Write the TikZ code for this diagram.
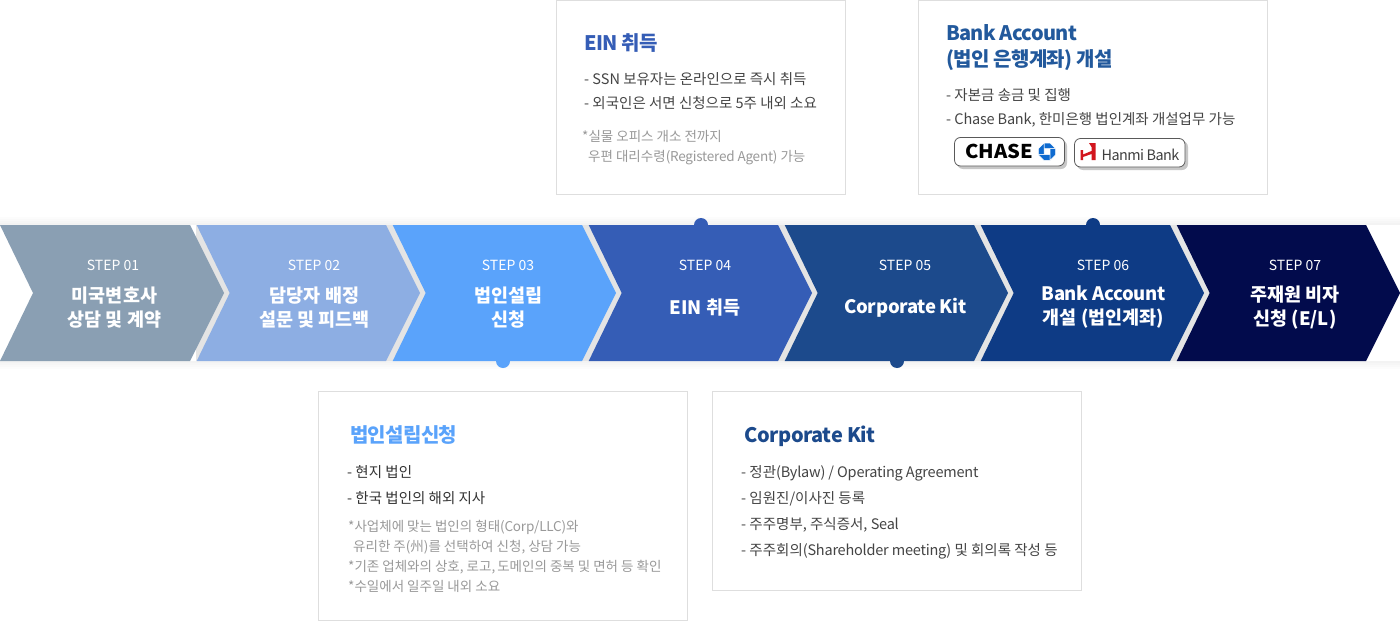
\documentclass[tikz,border=0pt]{standalone}
\usepackage{fontspec}
\setmainfont{Noto Sans CJK KR}
\usetikzlibrary{calc}
\definecolor{cA}{HTML}{8A9FB3}
\definecolor{cB}{HTML}{8DAEE3}
\definecolor{cC}{HTML}{5AA3FB}
\definecolor{cD}{HTML}{355DB6}
\definecolor{cE}{HTML}{1C4A8C}
\definecolor{cF}{HTML}{0E3B85}
\definecolor{cG}{HTML}{020B4C}
\definecolor{bTitle}{HTML}{22599C}
\definecolor{bord}{HTML}{DEDEDE}
\definecolor{gapc}{HTML}{E4E4E4}
\definecolor{txt}{HTML}{444444}
\definecolor{note}{HTML}{999999}
\definecolor{chaseblue}{HTML}{0F6BD0}
\definecolor{hanmired}{HTML}{D2161E}
\newcommand{\tl}[1]{{\addfontfeature{LetterSpace=-1.5}#1}}
\newcommand{\tn}[1]{{\addfontfeature{LetterSpace=-1.8}#1}}
\tikzset{
 x=1pt,y=-1pt,
 card/.style={draw=bord,line width=1.2pt,fill=white},
 steplab/.style={text=white,font=\fontsize{14}{16}\selectfont,anchor=center,inner sep=0pt},
 stepname/.style={text=white,font=\fontsize{18.5}{24}\selectfont\bfseries,align=center,anchor=center,inner sep=0pt},
 ctitle/.style={anchor=base west,inner sep=0pt,font=\fontsize{20}{26}\selectfont\bfseries\addfontfeature{LetterSpace=-3.4}},
 line/.style={anchor=base west,inner sep=0pt,text=txt,font=\fontsize{14.5}{18}\selectfont},
 small/.style={anchor=base west,inner sep=0pt,text=note,font=\fontsize{13.5}{18}\selectfont},
 pin/.style={circle,inner sep=0pt,minimum size=14pt},
 logo/.style={draw=black!65,line width=.8pt,fill=white,rounded corners=6pt},
 shadowbox/.style={fill=black!22,rounded corners=6pt},
}
\newcommand{\chev}[3]{% x offset, colour, name
 \fill[#2] (#1+.7,225) -- (#1+190,225) -- (#1+224,293) -- (#1+190,361) -- (#1+.7,361) -- (#1+33.7,293) -- cycle;
 \coordinate (#3) at (#1+112,293);
}
\begin{document}
\begin{tikzpicture}
\useasboundingbox (0,0) rectangle (1400,621);
\fill[white] (0,0) rectangle (1400,621);
% soft shadow above and below the band
\foreach \d in {8,6,4,2}{
 \fill[black,opacity=.012] (0,225-\d) rectangle (1400,225);
 \fill[black,opacity=.012] (0,361) rectangle (1400,361+\d);
}
% gap band
\fill[gapc] (196,225) rectangle (1366,361);
\fill[gapc] (1366,225) -- (1400,293) -- (1366,361) -- cycle;
% pins behind chevrons
\node[pin,fill=cD] (pinD) at (701,225) {};
\node[pin,fill=cF] (pinF) at (1093,225) {};
\node[pin,fill=cC] (pinC) at (503,361) {};
\node[pin,fill=cE] (pinE) at (897,361) {};
% chevrons
\chev{1176}{cG}{s7}
\chev{980}{cF}{s6}
\chev{784}{cE}{s5}
\chev{588}{cD}{s4}
\chev{392}{cC}{s3}
\chev{196}{cB}{s2}
\fill[cA] (0,225) -- (190,225) -- (224,293) -- (190,361) -- (0,361) -- (33,293) -- cycle;
\coordinate (s1) at (112,293);
% step labels
\node[steplab] (l1) at (113,265) {STEP 01};
\node[stepname] (n1) at (114.5,307.5) {미국변호사\\상담 및 계약};
\node[steplab] (l2) at (314,265) {STEP 02};
\node[stepname] (n2) at (314.5,307.5) {담당자 배정\\설문 및 피드백};
\node[steplab] (l3) at (508,265) {STEP 03};
\node[stepname] (n3) at (508.5,307.5) {법인설립\\신청};
\node[steplab] (l4) at (705,265) {STEP 04};
\node[stepname] (n4) at (705,307.5) {EIN 취득};
\node[steplab] (l5) at (905,265) {STEP 05};
\node[stepname] (n5) at (905.5,307.5) {\tn{Corporate Kit}};
\node[steplab] (l6) at (1103,265) {STEP 06};
\node[stepname] (n6) at (1103.5,307.5) {\tn{Bank Account}\\개설 (법인계좌)};
\node[steplab] (l7) at (1295,265) {STEP 07};
\node[stepname] (n7) at (1295,307.5) {주재원 비자\\신청 (E/L)};
% cards
\draw[card] (556.5,.6) rectangle (845.5,194.5);
\draw[card] (918.5,.6) rectangle (1267.5,194.5);
\draw[card] (318.5,391.5) rectangle (687.5,620.5);
\draw[card] (712.5,391.5) rectangle (1081.5,590.5);
% EIN
\node[ctitle,text=cD] (t4) at (584,50) {EIN 취득};
\node[line] (a1) at (584,84) {- SSN 보유자는 온라인으로 즉시 취득};
\node[line] (a2) at (584,108) {- 외국인은 서면 신청으로 5주 내외 소요};
\node[small] (a3) at (582,141) {*실물 오피스 개소 전까지};
\node[small] (a4) at (588,161) {우편 대리수령\tl{(Registered Agent)} 가능};
% Bank
\node[ctitle,text=bTitle] (t6a) at (946,40) {Bank Account};
\node[ctitle,text=bTitle] (t6b) at (946,66) {(법인 은행계좌) 개설};
\node[line] (b1) at (946,100) {- 자본금 송금 및 집행};
\node[line] (b2) at (946,124) {- \tl{Chase Bank,} 한미은행 법인계좌 개설업무 가능};
% logos
\fill[shadowbox] (957,140) rectangle (1067,169);
\draw[logo] (954.5,137.5) rectangle (1064.5,166);
\node[inner sep=0pt,anchor=center,font=\fontsize{19}{20}\selectfont\bfseries,text=black,xscale=1.06] (chase) at (999,151.8) {CHASE};
\begin{scope}[shift={(1047,151.7)}]
 \foreach \a in {0,90,180,270}{
  \fill[chaseblue,draw=white,line width=.5pt,rotate=\a] (-3,-8.7) -- (3,-8.7) -- (8.7,-3) -- (3,-3) -- (-3,-3) -- cycle;
 }
\end{scope}
\fill[shadowbox] (1077,141) rectangle (1188,170);
\draw[logo] (1074.5,138.5) rectangle (1185,167);
\fill[hanmired] (1080.5,150) -- (1083,150) -- (1083,154.5) -- (1091.5,151) -- (1091.5,147) -- (1089,143) -- (1095.5,143) -- (1095.5,160) -- (1091.5,160) -- (1091.5,154) -- (1083,157) -- (1083,160) -- (1080.5,160) -- cycle;
\node[inner sep=0pt,anchor=west,font=\fontsize{14.4}{16}\selectfont\addfontfeature{LetterSpace=-4},text=black!75] (hanmi) at (1101.5,155) {Hanmi Bank};
% Beopin
\node[ctitle,text=cC] (t3) at (350,442) {법인설립신청};
\node[line,text=black!80] (c1) at (347,477) {- 현지 법인};
\node[line,text=black!80] (c2) at (347,503) {- 한국 법인의 해외 지사};
\node[small] (c3) at (348,531) {*사업체에 맞는 법인의 형태\tl{(Corp/LLC)}와};
\node[small] (c4) at (353,551) {유리한 주(州)를 선택하여 신청, 상담 가능};
\node[small] (c5) at (348,571) {*기존 업체와의 상호, 로고,{\kern-1pt} 도메인의 중복 및 면허 등 확인};
\node[small] (c6) at (348,591) {*수일에서 일주일 내외 소요};
% Kit
\node[ctitle,text=cE,font=\fontsize{20}{26}\selectfont\bfseries\addfontfeature{LetterSpace=-2}] (t5) at (744,442) {Corporate Kit};
\node[line] (d1) at (741,477) {- 정관\tl{(Bylaw) / Operating Agreement}};
\node[line] (d2) at (741,503) {- 임원진/이사진 등록};
\node[line] (d3) at (741,529) {- 주주명부, 주식증서, \tl{Seal}};
\node[line] (d4) at (741,555) {- 주주회의\tl{(Shareholder meeting)} 및 회의록 작성 등};
\end{tikzpicture}
\end{document}
